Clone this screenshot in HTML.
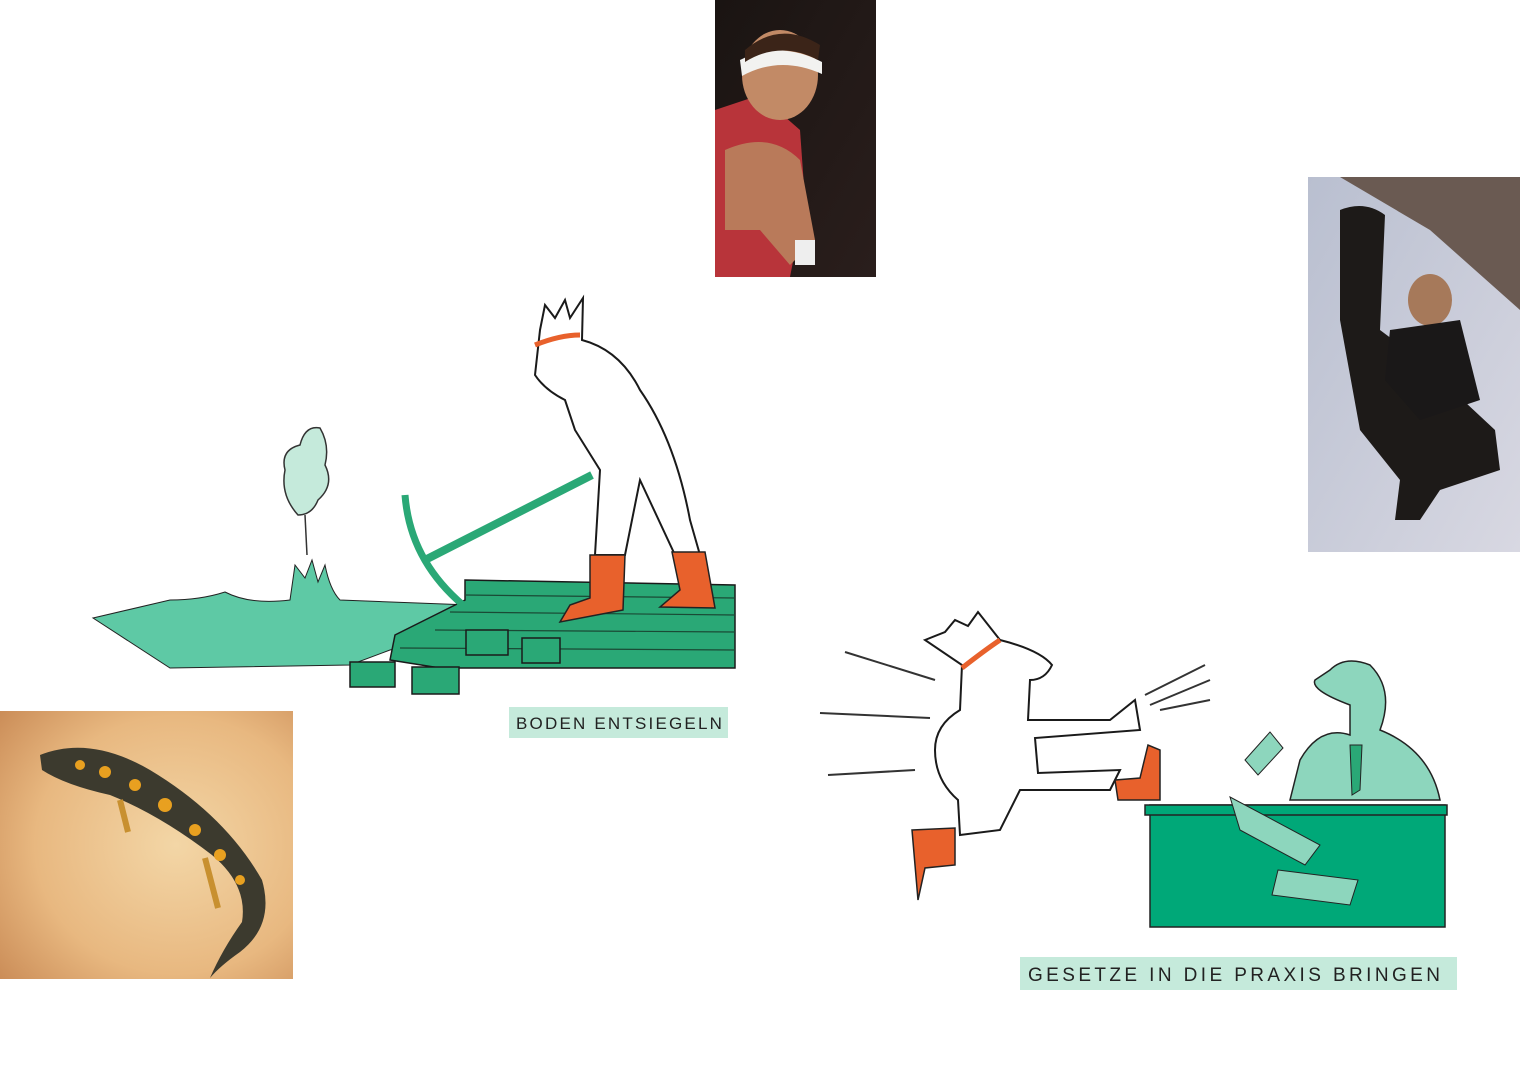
<!DOCTYPE html>
<html><head><meta charset="utf-8"><style>
html,body{margin:0;padding:0;background:#fff;width:1520px;height:1075px;overflow:hidden}
svg{display:block}
text{font-family:"Liberation Sans",sans-serif}
</style></head><body>
<svg width="1520" height="1075" viewBox="0 0 1520 1075" xmlns="http://www.w3.org/2000/svg">
<defs>
<linearGradient id="g1" x1="0" y1="0" x2="1" y2="1"><stop offset="0" stop-color="#1a1412"/><stop offset="1" stop-color="#2a1e1c"/></linearGradient>
<linearGradient id="g2" x1="0" y1="0" x2="1" y2="1"><stop offset="0" stop-color="#b9bfd0"/><stop offset="1" stop-color="#d8d8e2"/></linearGradient>
<radialGradient id="g3" cx="0.6" cy="0.5" r="0.8"><stop offset="0" stop-color="#f3d6a6"/><stop offset="0.6" stop-color="#e8b880"/><stop offset="1" stop-color="#c98a55"/></radialGradient>
</defs>
<rect x="715" y="0" width="161" height="277" fill="url(#g1)"/>
<path d="M715 110 L760 95 L800 130 L805 200 L790 277 L715 277Z" fill="#b8343a"/>
<path d="M725 150 Q770 130 800 160 L815 240 L790 265 L760 230 L725 230Z" fill="#b97a5a"/>
<ellipse cx="780" cy="75" rx="38" ry="45" fill="#c28a66"/>
<path d="M740 60 Q780 40 822 62 L822 74 Q780 55 742 76Z" fill="#f2f2f0"/>
<path d="M745 50 Q780 20 820 45 L818 60 Q780 40 745 62Z" fill="#3b2418"/>
<rect x="795" y="240" width="20" height="25" fill="#eee"/>
<rect x="1308" y="177" width="212" height="375" fill="url(#g2)"/>
<path d="M1340 177 L1520 177 L1520 310 L1430 230Z" fill="#6a5a52"/>
<path d="M1340 210 Q1365 200 1385 215 L1380 330 L1420 360 L1495 430 L1500 470 L1440 490 L1420 520 L1395 520 L1400 480 L1360 430 L1340 320Z" fill="#1d1a18"/>
<ellipse cx="1430" cy="300" rx="22" ry="26" fill="#a6795a"/>
<path d="M1390 330 L1460 320 L1480 400 L1420 420 L1385 380Z" fill="#1a1818"/>
<rect x="0" y="711" width="293" height="268" fill="url(#g3)"/>
<path d="M40 755 Q90 735 150 770 Q225 815 262 880 Q275 925 240 952 Q220 966 210 978 Q222 950 242 922 Q248 885 212 855 Q160 815 110 795 Q65 785 42 770Z" fill="#3c3a2e"/>
<g fill="#e8a020"><circle cx="80" cy="765" r="5"/><circle cx="105" cy="772" r="6"/><circle cx="135" cy="785" r="6"/><circle cx="165" cy="805" r="7"/><circle cx="195" cy="830" r="6"/><circle cx="220" cy="855" r="6"/><circle cx="240" cy="880" r="5"/></g>
<path d="M120 800 L128 832 M205 858 L218 908" stroke="#c89030" stroke-width="6"/>
<path d="M93 618 L170 600 Q200 600 225 592 Q250 605 290 600 L295 565 L305 578 L312 560 L318 582 L325 565 Q330 590 340 600 L470 605 L480 625 L430 640 L390 650 L350 665 L170 668Z" fill="#5ec9a5" stroke="#222" stroke-width="1"/>
<path d="M298 515 Q280 495 285 470 Q280 450 300 445 Q305 425 320 428 Q330 445 325 465 Q335 485 318 500 Q312 515 298 515Z" fill="#c5eadb" stroke="#333" stroke-width="1.5"/>
<line x1="305" y1="515" x2="307" y2="555" stroke="#333" stroke-width="1.5"/>
<path d="M465 580 L735 585 L735 668 L440 668 L390 660 L395 635 L435 615 L465 600Z" fill="#2aa876" stroke="#1a1a1a" stroke-width="1.5"/>
<g stroke="#1a4a35" stroke-width="1.2">
<line x1="465" y1="595" x2="735" y2="598"/><line x1="450" y1="612" x2="735" y2="615"/><line x1="435" y1="630" x2="735" y2="632"/><line x1="400" y1="648" x2="735" y2="650"/>
</g>
<rect x="350" y="662" width="45" height="25" fill="#2aa876" stroke="#1a1a1a" stroke-width="1.5"/>
<rect x="412" y="667" width="47" height="27" fill="#2aa876" stroke="#1a1a1a" stroke-width="1.5"/>
<rect x="466" y="630" width="42" height="25" fill="#2aa876" stroke="#1a1a1a" stroke-width="1.5"/>
<rect x="522" y="638" width="38" height="25" fill="#2aa876" stroke="#1a1a1a" stroke-width="1.5"/>
<line x1="425" y1="560" x2="592" y2="475" stroke="#2aa876" stroke-width="8"/>
<path d="M405 495 Q410 560 463 605" stroke="#2aa876" stroke-width="7" fill="none"/>
<path d="M540 330 L545 305 L555 318 L565 300 L570 318 L583 298 L582 340 Q620 350 640 390 Q675 440 690 520 L700 555 L675 555 L640 480 L625 555 L595 555 L600 470 L575 430 L565 400 Q545 390 535 375 Z" fill="#fff" stroke="#1a1a1a" stroke-width="2"/>
<path d="M535 345 Q560 335 580 335" stroke="#e8612c" stroke-width="5" fill="none"/>
<path d="M590 555 L625 555 L623 610 L560 622 L570 605 L590 598Z" fill="#e8612c" stroke="#222" stroke-width="1.5"/>
<path d="M672 552 L705 552 L715 608 L660 607 L680 590Z" fill="#e8612c" stroke="#222" stroke-width="1.5"/>
<path d="M925 640 L945 632 L955 620 L968 626 L978 612 L1000 640 Q1040 650 1052 665 Q1045 680 1030 680 L1028 720 L1110 720 L1135 700 L1140 730 L1035 738 L1038 773 L1120 770 L1110 790 L1020 790 L1000 830 L960 835 L958 800 Q935 780 935 750 Q935 725 960 710 L962 665Z" fill="#fff" stroke="#1a1a1a" stroke-width="2"/>
<path d="M962 668 Q985 650 1000 640" stroke="#e8612c" stroke-width="5" fill="none"/>
<path d="M1115 780 L1140 778 L1148 745 L1160 750 L1160 800 L1118 800Z" fill="#e8612c" stroke="#222" stroke-width="1.5"/>
<path d="M912 830 L955 828 L955 865 L925 868 L918 900Z" fill="#e8612c" stroke="#222" stroke-width="1.5"/>
<g stroke="#333" stroke-width="2" fill="none">
<path d="M845 652 L935 680"/><path d="M820 713 L930 718"/><path d="M828 775 L915 770"/>
<path d="M1145 695 L1205 665"/><path d="M1150 705 L1210 680"/><path d="M1160 710 L1210 700"/>
</g>
<path d="M1300 760 Q1320 725 1350 735 L1350 705 Q1310 690 1315 680 L1330 670 Q1345 655 1370 665 Q1395 690 1380 730 Q1430 750 1440 800 L1290 800Z" fill="#8dd6bd" stroke="#222" stroke-width="1.5"/>
<path d="M1350 745 L1362 745 L1360 790 L1352 795Z" fill="#2aa876" stroke="#222" stroke-width="1"/>
<rect x="1150" y="805" width="295" height="122" fill="#00a878" stroke="#222" stroke-width="1.5"/>
<rect x="1145" y="805" width="302" height="10" fill="#00a878" stroke="#222" stroke-width="1.5"/>
<path d="M1245 760 L1270 732 L1283 748 L1258 775Z" fill="#8dd6bd" stroke="#222" stroke-width="1"/>
<path d="M1230 797 L1320 845 L1305 865 L1240 830Z" fill="#8dd6bd" stroke="#222" stroke-width="1"/>
<path d="M1278 870 L1358 880 L1350 905 L1272 895Z" fill="#8dd6bd" stroke="#222" stroke-width="1"/>
<rect x="509" y="707" width="219" height="31" fill="#c5eadb"/>
<text x="516" y="729" font-size="17" fill="#222" letter-spacing="2.2">BODEN ENTSIEGELN</text>
<rect x="1020" y="957" width="437" height="33" fill="#c5eadb"/>
<text x="1028" y="981" font-size="19" fill="#222" letter-spacing="3.4">GESETZE IN DIE PRAXIS BRINGEN</text>
</svg>
</body></html>
